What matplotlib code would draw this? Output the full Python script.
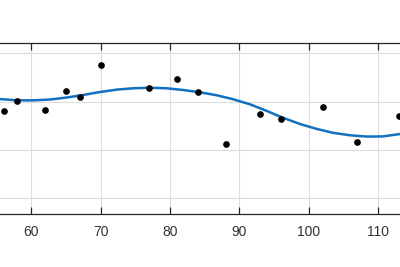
import matplotlib
matplotlib.use("Agg")
import matplotlib.pyplot as plt

# scatter points
point_x = [56, 58, 62, 65, 67, 70, 77, 81, 84, 88, 93, 96, 102, 107, 113]
point_y = [1.81, 2.02, 1.83, 2.21, 2.10, 2.75, 2.29, 2.47, 2.19,
           1.12, 1.74, 1.64, 1.89, 1.16, 1.70]

# fitted curve samples
curve_x = [55.49, 57.94, 60.25, 62.69, 65.14, 67.45, 69.90, 72.35, 74.65,
           77.10, 79.55, 81.86, 84.31, 86.76, 89.06, 91.51, 93.96, 96.27,
           98.72, 101.17, 103.47, 105.92, 108.37, 110.68, 113.13]
curve_y = [2.053, 2.028, 2.026, 2.044, 2.086, 2.137, 2.199, 2.249, 2.276,
           2.288, 2.276, 2.241, 2.193, 2.131, 2.050, 1.945, 1.806, 1.666,
           1.537, 1.434, 1.355, 1.304, 1.277, 1.281, 1.330]

x_ticks = [60, 70, 80, 90, 100, 110]
y_ticks = [0, 1, 2, 3]

plt.rcParams["font.family"] = ["Liberation Sans", "DejaVu Sans"]

fig = plt.figure(figsize=(4.0, 2.67), dpi=100)
ax = fig.add_axes([0.0, 0.1985, 1.0, 0.6393])

ax.plot(curve_x, curve_y, color="#1170c0", linewidth=1.8,
        solid_joinstyle="round", zorder=3)
ax.plot(point_x, point_y, "o", color="black", markersize=3.8, zorder=4)

ax.set_xlim(55.49, 113.13)
ax.set_ylim(-0.325, 3.207)
ax.set_xticks(x_ticks)
ax.set_yticks(y_ticks)
ax.set_yticklabels([])
ax.grid(True, color="#dcdcdc", linewidth=0.8)
ax.set_axisbelow(True)

for side in ("left", "right"):
    ax.spines[side].set_visible(False)
for side in ("top", "bottom"):
    ax.spines[side].set_color("#262626")
    ax.spines[side].set_linewidth(0.9)

ax.tick_params(axis="x", direction="in", length=5, width=0.9, color="#262626",
               top=True, labelsize=10, labelcolor="#333333", pad=8)
ax.tick_params(axis="y", length=0)

fig.savefig("out.png", dpi=100)
